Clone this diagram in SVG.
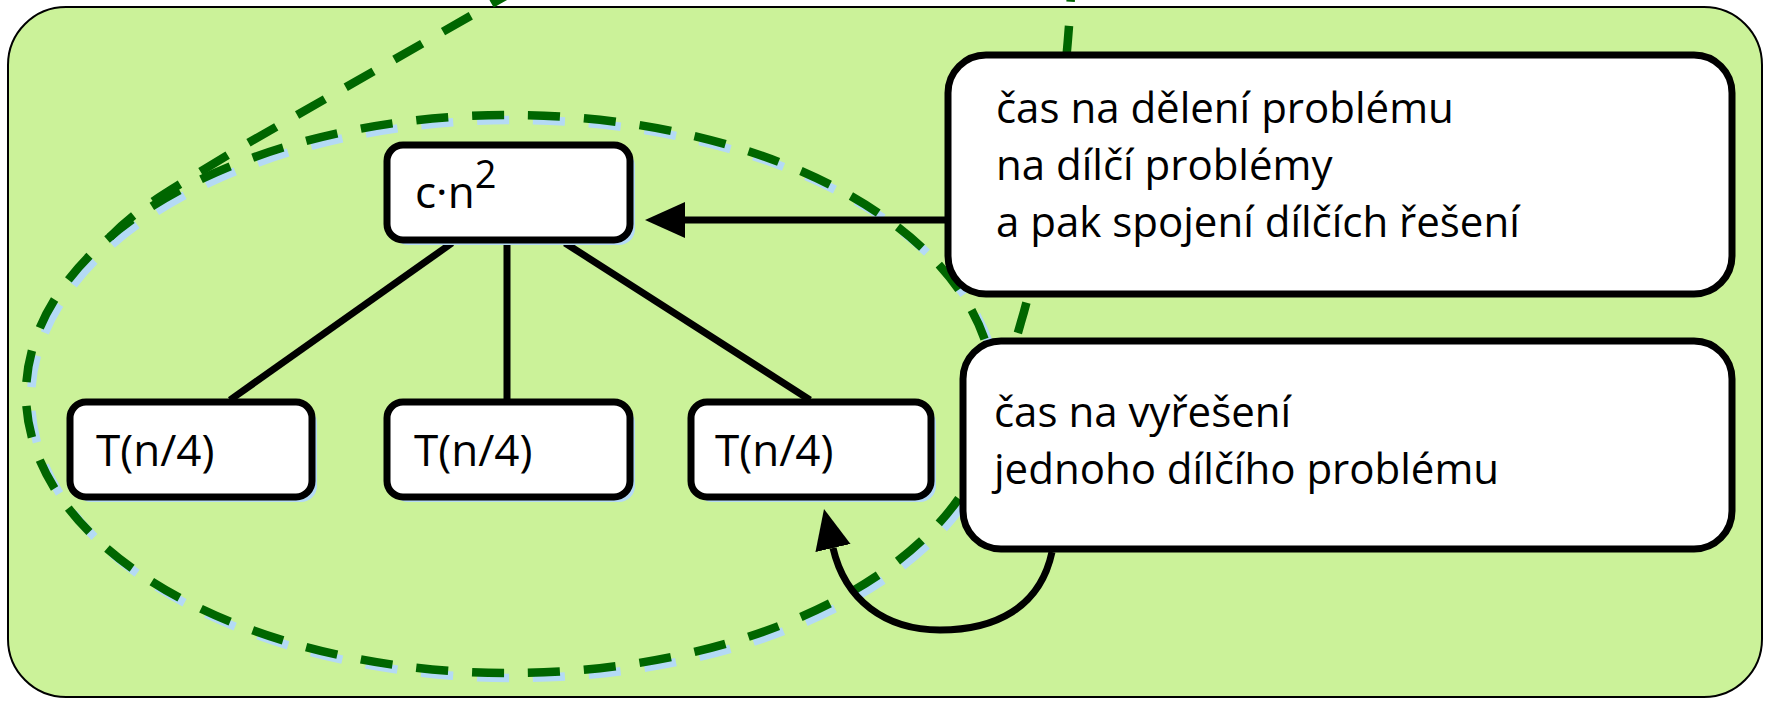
<svg xmlns="http://www.w3.org/2000/svg" width="1769" height="701" viewBox="0 0 1769 701">
<style>
  .bg { fill: #CBF299; stroke: #000; stroke-width: 2; }
  .ell { fill: none; stroke: #006600; stroke-width: 8.5; stroke-dasharray: 32 24; }
  .ellsh { fill: none; stroke: #B4DAF5; stroke-width: 8.5; stroke-dasharray: 32 24; }
  .node { fill: #fff; stroke: #000; stroke-width: 7; }
  .shadow { fill: #B4DAF5; }
  .call { fill: #fff; stroke: #000; stroke-width: 7; }
  .conn { fill: none; stroke: #000; stroke-width: 7; }
  .t { font-family: "Open Sans", "Liberation Sans", sans-serif; fill: #000; }
  .tn { font-size: 44px; }
  .tc { font-size: 42px; }
</style>
<defs>
  <marker id="ah" markerUnits="userSpaceOnUse" markerWidth="44" markerHeight="40" viewBox="0 -20 44 40" refX="0" refY="0" orient="auto">
    <path d="M0,-18 L40,0 L0,18 Z" fill="#000"/>
  </marker>
</defs>
<rect class="bg" x="8" y="7" width="1754" height="690" rx="58" ry="58"/>
<g id="region">
  <ellipse class="ellsh" cx="515" cy="399" rx="484" ry="279"/>
  <ellipse class="ell" cx="510" cy="394" rx="484" ry="279"/>
  <path class="ell" d="M 110 237 C 140 205, 180 185, 241 147 L 530 -18"/>
  <path class="ell" d="M 1072 -30 C 1068 100, 1040 260, 1021 322 C 1010 360, 995 420, 984 450"/>
</g>
<g id="connectors">
  <line class="conn" x1="452" y1="243" x2="230" y2="400"/>
  <line class="conn" x1="507" y1="243" x2="507" y2="400"/>
  <line class="conn" x1="565" y1="243" x2="810" y2="400"/>
  <path class="conn" d="M 946 220 L 685 220" marker-end="url(#ah)"/>
  <path class="conn" d="M 1052 552 C 1040 608, 995 630, 940 630 C 885 630, 845 600, 833 548" marker-end="url(#ah)"/>
</g>
<g id="node-cn2">
  <rect class="shadow" x="392" y="150" width="243" height="95" rx="16"/>
  <rect class="node" x="387" y="145" width="243" height="95" rx="16"/>
  <text class="t tn" x="415" y="208">c·n<tspan font-size="38" dy="-20">2</tspan></text>
</g>
<g id="node-t1">
  <rect class="shadow" x="75" y="407" width="242" height="95" rx="16"/>
  <rect class="node" x="70" y="402" width="242" height="95" rx="16"/>
  <text class="t tn" x="96" y="466">T(n/4)</text>
</g>
<g id="node-t2">
  <rect class="shadow" x="392" y="407" width="243" height="95" rx="16"/>
  <rect class="node" x="387" y="402" width="243" height="95" rx="16"/>
  <text class="t tn" x="414" y="466">T(n/4)</text>
</g>
<g id="node-t3">
  <rect class="shadow" x="696" y="407" width="240" height="95" rx="16"/>
  <rect class="node" x="691" y="402" width="240" height="95" rx="16"/>
  <text class="t tn" x="715" y="466">T(n/4)</text>
</g>
<g id="callout-split">
  <rect class="call" x="948" y="55" width="784" height="239" rx="38"/>
  <text class="t tc" x="996" y="123">čas na dělení problému</text>
  <text class="t tc" x="996" y="180">na dílčí problémy</text>
  <text class="t tc" x="996" y="237">a pak spojení dílčích řešení</text>
</g>
<g id="callout-solve">
  <rect class="call" x="963" y="341" width="769" height="208" rx="38"/>
  <text class="t tc" x="994" y="427">čas na vyřešení</text>
  <text class="t tc" x="994" y="484">jednoho dílčího problému</text>
</g>
</svg>
